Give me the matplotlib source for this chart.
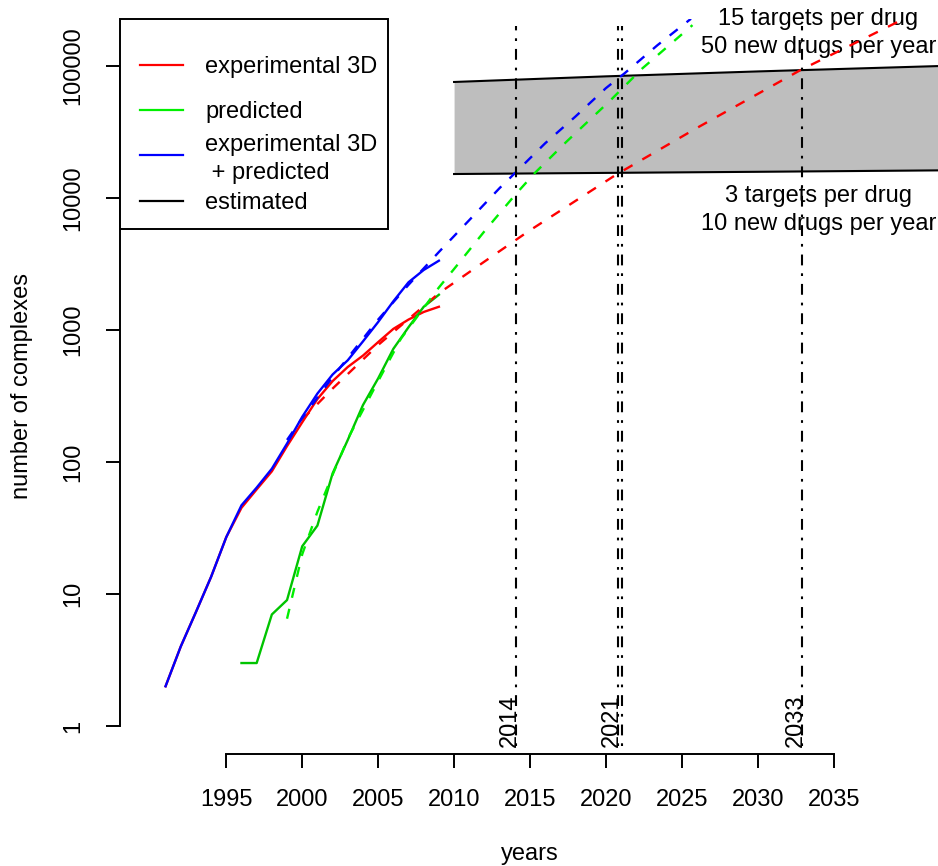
import matplotlib
matplotlib.use("Agg")
import matplotlib.pyplot as plt
from matplotlib.lines import Line2D
from matplotlib.patches import Rectangle

plt.rcParams['font.family'] = ['Liberation Sans', 'DejaVu Sans']
FS = 17

# ---------------- data ----------------
years_all = [1991, 1992, 1993, 1994, 1995, 1996, 1997, 1998, 1999, 2000,
             2001, 2002, 2003, 2004, 2005, 2006, 2007, 2008, 2009]
exp_plus_pred = [2, 4, 7.3, 13.5, 27, 47, 64, 89, 138, 220,
                 330, 460, 590, 820, 1150, 1650, 2300, 2850, 3350]
exp3d = [2, 4, 7.3, 13.5, 27, 45, 62, 85, 132, 200,
         300, 410, 525, 640, 810, 1020, 1200, 1370, 1500]

years_pred = [1996, 1997, 1998, 1999, 2000, 2001, 2002, 2003, 2004, 2005,
              2006, 2007, 2008, 2009]
predicted = [3, 3, 7, 9, 23, 33, 82, 147, 270, 430, 720, 1050, 1500, 1850]

# fitted projections (dashed)
fit_exp_years = [2000, 2002, 2005, 2009, 2012, 2014.9, 2017.2, 2020.7, 2026,
                 2032.8, 2039.5, 2042]
fit_exp = [210, 360, 770, 1900, 3300, 5600, 8300, 15100, 34000, 93000,
           224000, 310000]

fit_pred_years = [1999, 2000, 2001, 2002, 2003, 2005, 2006.5, 2009, 2010, 2012,
                  2014, 2015.3, 2017.4, 2020.3, 2022.4, 2025.7]
fit_pred = [6.5, 20, 42, 80, 150, 410, 860, 2100, 2900, 5600, 10500, 15400,
            26700, 55000, 96000, 204000]

fit_all_years = [1999, 2000, 2002, 2005, 2007, 2009, 2011, 2013, 2014, 2016,
                 2018, 2020, 2021.25, 2023.4, 2025.6]
fit_all = [147, 215, 440, 1200, 2200, 3900, 6800, 11900, 15400, 26000, 41500,
           68000, 88500, 144000, 228000]

# estimated band
est_years = [2010, 2020, 2030, 2042]
est_low = [15200, 15500, 15800, 16200]
est_high = [75700, 83500, 91000, 100000]

# crossing years (vertical dot-dash lines)
cross_years = [2014.07, 2020.77, 2021.03, 2032.9]
cross_labels = ['2014', '2021', '', '2033']

xticks = [1995, 2000, 2005, 2010, 2015, 2020, 2025, 2030, 2035]
yticks = [1, 10, 100, 1000, 10000, 100000]
ytick_labels = ['1', '10', '100', '1000', '10000', '100000']

RED = '#ff0000'
GREEN_SOLID = '#00c400'
GREEN = '#00f000'
BLUE = '#0000ff'

# ---------------- figure ----------------
W, H = 938, 866
fig = plt.figure(figsize=(W / 100, H / 100), dpi=100)
ax = fig.add_axes([120 / W, 112 / H, 820 / W, 735.5 / H])
ax.set_yscale('log')
ax.set_xlim(1988, 2042)
ax.set_ylim(10 ** -0.212, 10 ** 5.36)

# band
ax.fill_between(est_years, est_low, est_high, color='#bebebe', lw=0, zorder=1)
ax.plot(est_years, est_high, color='black', lw=1.5, zorder=2)
ax.plot(est_years, est_low, color='black', lw=1.5, zorder=2)

# solid curves
lw = 1.7
ax.plot(years_all, exp3d, color=RED, lw=lw, zorder=3)
ax.plot(years_pred, predicted, color=GREEN_SOLID, lw=lw, zorder=3)
ax.plot(years_all, exp_plus_pred, color=BLUE, lw=lw, zorder=3)

# dashed projections
dash = (0, (4.3, 4.8))
ax.plot(fit_exp_years, fit_exp, color=RED, lw=lw, ls=dash, zorder=4)
ax.plot(fit_pred_years, fit_pred, color=GREEN, lw=lw, ls=dash, zorder=4)
ax.plot(fit_all_years, fit_all, color=BLUE, lw=lw, ls=dash, zorder=4)

# vertical dot-dash lines
ax.vlines(cross_years, 0.7, 2e5, colors='black', lw=1.5,
          linestyles=[(0, (1.3, 3.8, 5.2, 3.8))], zorder=5)
for xv, lab in zip(cross_years, cross_labels):
    if lab:
        ax.text(xv, 0.69, lab, rotation=90, rotation_mode='anchor',
                ha='left', va='baseline', fontsize=FS, clip_on=False, zorder=6)

# band annotations
ax.text(2034, 2.05e5, '15 targets per drug', ha='center', va='baseline',
        fontsize=FS, clip_on=False)
ax.text(2034, 1.25e5, '50 new drugs per year', ha='center', va='baseline',
        fontsize=FS, clip_on=False)
ax.text(2034, 9330, '3 targets per drug', ha='center', va='baseline',
        fontsize=FS, clip_on=False)
ax.text(2034, 5720, '10 new drugs per year', ha='center', va='baseline',
        fontsize=FS, clip_on=False)

# axes styling (R-like)
for s in ['top', 'right']:
    ax.spines[s].set_visible(False)
ax.spines['left'].set_bounds(1, 100000)
ax.spines['bottom'].set_bounds(1995, 2035)
ax.spines['left'].set_linewidth(1.4)
ax.spines['bottom'].set_linewidth(1.4)
ax.set_xticks(xticks)
ax.set_xticklabels([str(t) for t in xticks], fontsize=FS)
ax.set_yticks(yticks)
ax.set_yticklabels(ytick_labels, fontsize=FS, rotation=90, va='center')
ax.minorticks_off()
ax.tick_params(axis='both', direction='out', length=10, width=1.4)
ax.tick_params(axis='x', pad=15)
ax.tick_params(axis='y', pad=16)

ax.set_xlabel('years', fontsize=FS)
ax.xaxis.label.set_va('baseline')
ax.xaxis.set_label_coords(0.5, (754 - 860) / 735.5)
ax.set_ylabel('number of complexes', fontsize=FS)
ax.yaxis.label.set_va('baseline')
ax.yaxis.set_label_coords((28 - 120) / 820, 0.5)

# legend (R style box, top-left of plot region)
def fx(px):
    return px / W

def fy(py):
    return 1 - py / H

fig.add_artist(Rectangle((fx(119.5), fy(229)), (388 - 119.5) / W, 210 / H,
                         transform=fig.transFigure, facecolor='white',
                         edgecolor='black', lw=1.4, zorder=10))
leg_items = [(RED, 65, ['experimental 3D'], [73]),
             (GREEN, 110, ['predicted'], [118]),
             (BLUE, 155, ['experimental 3D', ' + predicted'], [151.5, 178.5]),
             ('black', 201, ['estimated'], [209])]
for col, ly, texts, bases in leg_items:
    fig.add_artist(Line2D([fx(140), fx(183)], [fy(ly), fy(ly)], color=col,
                          lw=1.6, transform=fig.transFigure, zorder=11))
    for t, b in zip(texts, bases):
        fig.text(fx(205), fy(b), t, ha='left', va='baseline', fontsize=FS,
                 zorder=11)

fig.savefig('out.png', dpi=100)
